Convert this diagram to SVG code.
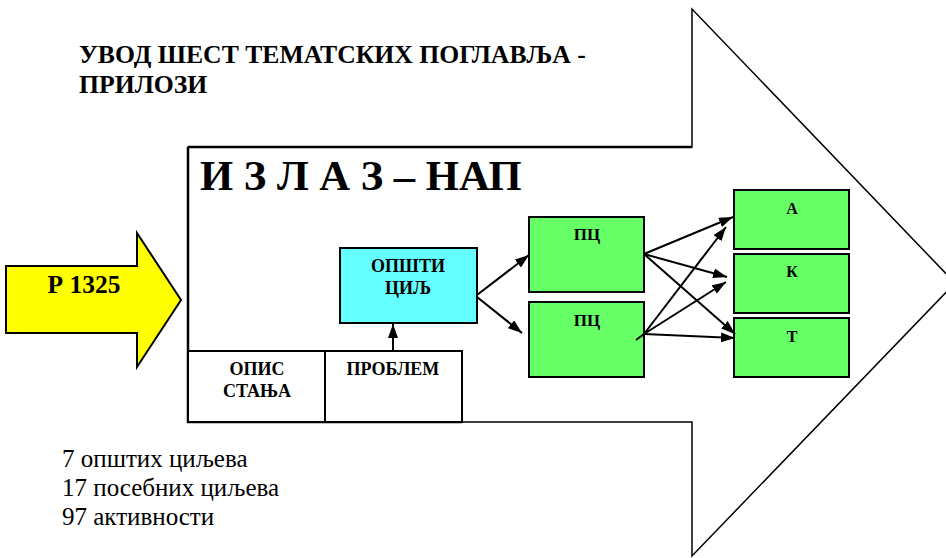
<svg xmlns="http://www.w3.org/2000/svg" width="946" height="558" viewBox="0 0 946 558">
<defs>
<marker id="ah" viewBox="0 0 14 10" refX="14" refY="5" markerWidth="14" markerHeight="10" markerUnits="userSpaceOnUse" orient="auto">
<path d="M0,0 L14,5 L0,10 Z" fill="#000"/>
</marker>
</defs>
<rect width="946" height="558" fill="#fff"/>
<g id="title" font-family="Liberation Serif" font-weight="bold" font-size="25.7" fill="#000">
<text x="79" y="63">УВОД ШЕСТ ТЕМАТСКИХ ПОГЛАВЉА -</text>
<text x="79" y="93">ПРИЛОЗИ</text>
</g>
<g id="big-arrow">
<path d="M188,147 L692,147 L692,9 L955,283 L692,556 L692,422 L188,422 Z" fill="#fff" stroke="#000" stroke-width="1.5"/>
<path d="M188,147 L692,147 M188,147 L188,422 L462,422" stroke="#000" stroke-width="2.5" fill="none"/>
<text x="200" y="190" font-family="Liberation Serif" font-weight="bold" font-size="42.6" fill="#000">И З Л А З – НАП</text>
</g>
<g id="r1325">
<path d="M6,266 L137,266 L137,233 L181,300 L137,367 L137,333 L6,333 Z" fill="#ffff00" stroke="#000" stroke-width="2"/>
<text x="84" y="293" font-family="Liberation Serif" font-weight="bold" font-size="25.5" text-anchor="middle" fill="#000">Р 1325</text>
</g>
<g id="opis" font-family="Liberation Serif" font-weight="bold" font-size="18" text-anchor="middle">
<rect x="188" y="351" width="137" height="71" fill="#fff" stroke="#000" stroke-width="2"/>
<text x="257" y="375">ОПИС</text>
<text x="257" y="397">СТАЊА</text>
</g>
<g id="problem" font-family="Liberation Serif" font-weight="bold" font-size="18" text-anchor="middle">
<rect x="325" y="351" width="137" height="71" fill="#fff" stroke="#000" stroke-width="2"/>
<text x="393" y="375">ПРОБЛЕМ</text>
</g>
<g id="opsti" font-family="Liberation Serif" font-weight="bold" font-size="18" text-anchor="middle">
<rect x="340" y="248" width="137" height="75" fill="#66ffff" stroke="#000" stroke-width="2"/>
<text x="408" y="272">ОПШТИ</text>
<text x="408" y="294">ЦИЉ</text>
</g>
<g id="pc1" font-family="Liberation Serif" font-weight="bold" font-size="17" text-anchor="middle">
<rect x="529" y="217" width="115" height="75" fill="#66ff66" stroke="#000" stroke-width="2"/>
<text x="587" y="240">ПЦ</text>
</g>
<g id="pc2" font-family="Liberation Serif" font-weight="bold" font-size="17" text-anchor="middle">
<rect x="529" y="302" width="115" height="75" fill="#66ff66" stroke="#000" stroke-width="2"/>
<text x="587" y="326">ПЦ</text>
</g>
<g id="a" font-family="Liberation Serif" font-weight="bold" font-size="16" text-anchor="middle">
<rect x="734" y="190" width="115" height="59" fill="#66ff66" stroke="#000" stroke-width="2"/>
<text x="792" y="214">А</text>
</g>
<g id="k" font-family="Liberation Serif" font-weight="bold" font-size="16" text-anchor="middle">
<rect x="734" y="254" width="115" height="59" fill="#66ff66" stroke="#000" stroke-width="2"/>
<text x="792" y="277">К</text>
</g>
<g id="t" font-family="Liberation Serif" font-weight="bold" font-size="16" text-anchor="middle">
<rect x="734" y="318" width="115" height="59" fill="#66ff66" stroke="#000" stroke-width="2"/>
<text x="792" y="342">Т</text>
</g>
<g id="connectors" stroke="#000" stroke-width="2" fill="none">
<line x1="393" y1="351" x2="393" y2="324" marker-end="url(#ah)"/>
<line x1="477" y1="295" x2="529" y2="255" marker-end="url(#ah)"/>
<line x1="477" y1="297" x2="522" y2="333" marker-end="url(#ah)"/>
<line x1="644" y1="254" x2="733" y2="217" marker-end="url(#ah)"/>
<line x1="644" y1="254" x2="727" y2="277" marker-end="url(#ah)"/>
<line x1="644" y1="254" x2="735" y2="334" marker-end="url(#ah)"/>
<line x1="636" y1="340" x2="644" y2="334"/>
<line x1="644" y1="334" x2="726" y2="227" marker-end="url(#ah)"/>
<line x1="644" y1="334" x2="726" y2="282" marker-end="url(#ah)"/>
<line x1="644" y1="334" x2="735" y2="338" marker-end="url(#ah)"/>
</g>
<g id="stats" font-family="Liberation Serif" font-size="25" fill="#000">
<text x="62" y="467">7 општих циљева</text>
<text x="62" y="496">17 посебних циљева</text>
<text x="62" y="525">97 активности</text>
</g>
</svg>
